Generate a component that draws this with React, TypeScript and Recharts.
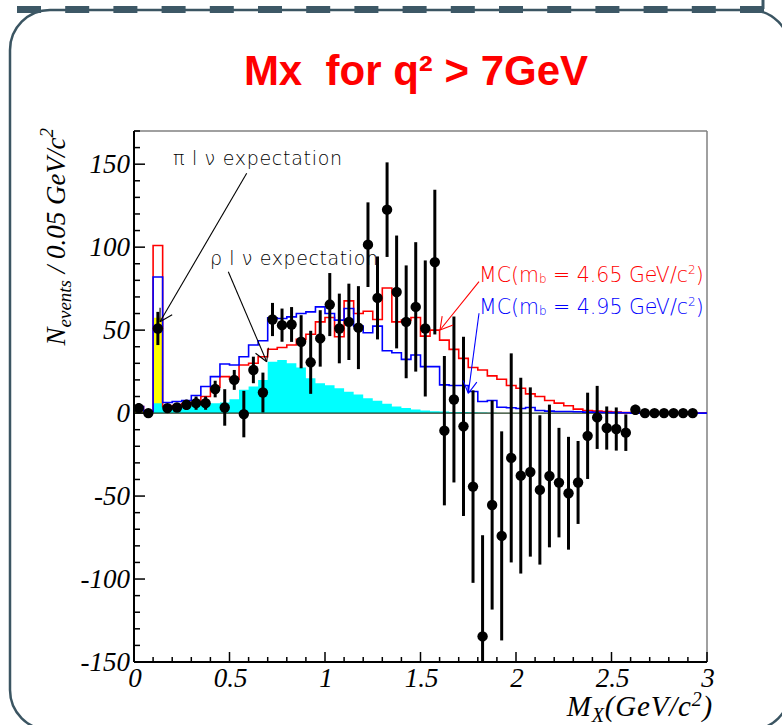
import React from "react";
import {
  ComposedChart,
  Line,
  Area,
  Scatter,
  ErrorBar,
  XAxis,
  YAxis,
  ReferenceLine,
} from "recharts";

// Histogram binning: 60 bins of 0.05 GeV/c^2 between 0 and 3
const BIN_WIDTH = 0.05;
const N_BINS = 60;
const Y_MIN = -150;
const Y_MAX = 170;

// MC prediction, m_b = 4.65 GeV/c^2 (red outline)
const MC_465 = [
  4, 1, 101, 4, 4.6, 5.6, 6.5, 10, 15.6, 22,
  20.5, 29, 30, 34, 38.5, 39.5, 41, 44.4, 47.5, 55,
  57.6, 46, 67.6, 60, 61.4, 56.4, 75.4, 55, 56, 57.6,
  46.4, 50, 44, 38.4, 33, 27.5, 26, 22.4, 20.4, 16.6,
  15, 11.6, 10, 7.6, 6, 4.4, 2.4, 1.6, 1.2, 1,
  0.6, 0.3, 0, 0, 0, 0, 0, 0, 0, 0,
];

// MC prediction, m_b = 4.95 GeV/c^2 (blue outline)
const MC_495 = [
  4, 1, 82, 6.4, 7, 7.6, 10.6, 16, 22, 29.6,
  29, 34, 41, 43.6, 57.5, 57, 58, 60, 61, 64,
  60, 56, 63, 52.4, 48.4, 52.4, 37.6, 36.4, 32.4, 35,
  28, 28, 17, 16.6, 16.6, 13, 7, 7.6, 3.5, 3.2,
  2.8, 3.4, 1.6, 1.2, 1, 1, 0.8, 0.6, 0.5, 0.4,
  0.3, 0.2, 0, 0, 0, 0, 0, 0, 0, 0,
];

// rho l nu expectation (cyan fill)
const RHO_LNU = [
  0, 0, 6, 3.6, 3.8, 4, 4.4, 5, 6, 6.4,
  8.4, 14, 16, 20, 31, 32, 30, 27.5, 21, 18,
  16.8, 15, 12.8, 11.2, 9, 7.4, 5.6, 4, 3, 2.2,
  1.5, 1.1, 0.9, 0.7, 0.6, 0.5, 0.3, 0.2, 0, 0,
  0, 0, 0, 0, 0, 0, 0, 0, 0, 0,
  0, 0, 0, 0, 0, 0, 0, 0, 0, 0,
];

// pi l nu expectation (yellow fill)
const PI_LNU = [
  3, 0, 57.5, 0, 0, 0, 0, 0, 0, 0,
  0, 0, 0, 0, 0, 0, 0, 0, 0, 0,
  0, 0, 0, 0, 0, 0, 0, 0, 0, 0,
  0, 0, 0, 0, 0, 0, 0, 0, 0, 0,
  0, 0, 0, 0, 0, 0, 0, 0, 0, 0,
  0, 0, 0, 0, 0, 0, 0, 0, 0, 0,
];

// background-subtracted data, one entry per bin centre (last bin empty)
const DATA_Y = [
  3, 0, 51, 3, 3.4, 5, 6, 6, 14.5, 3.4,
  20, -0.6, 26, 12.4, 56.4, 53, 53.4, 43, 30.6, 45,
  65.4, 51, 55, 51.5, 101.5, 69.4, 122.6, 73, 55, 64,
  51, 91, -10.6, 8.2, -8, -44.3, -134.6, -55.4, -74, -27,
  -37.7, -35.5, -46.3, -37.9, -41.9, -48.3, -41.8, -13.7, -2.6, -9,
  -9.6, -11.8, 2, 0, 0, 0, 0, 0, 0,
];
const DATA_ERR = [
  3, 0, 10, 2, 2, 3, 4, 4, 5, 11,
  6, 14, 8, 12, 10, 10, 10.5, 16, 19, 17,
  19, 21, 23, 25, 25.5, 25, 28.5, 34, 34, 39,
  41, 43.6, 45, 50, 54, 58, 61, 63, 63, 63,
  59, 51, 45, 43, 33, 34, 25, 26, 19, 13,
  13, 11, 3, 0, 0, 0, 0, 0, 0,
];

const X_TICKS = [
  0, 0.1, 0.2, 0.3, 0.4, 0.5, 0.6, 0.7, 0.8, 0.9, 1, 1.1, 1.2, 1.3, 1.4, 1.5,
  1.6, 1.7, 1.8, 1.9, 2, 2.1, 2.2, 2.3, 2.4, 2.5, 2.6, 2.7, 2.8, 2.9, 3,
];
const Y_TICKS = [
  -150, -140, -130, -120, -110, -100, -90, -80, -70, -60, -50, -40, -30, -20, -10,
  0, 10, 20, 30, 40, 50, 60, 70, 80, 90, 100, 110, 120, 130, 140, 150, 160, 170,
];

// bin edges; the closing edge repeats the last bin so the step reaches x = 3
const histRows = Array.from({ length: N_BINS + 1 }, (_, i) => {
  const b = Math.min(i, N_BINS - 1);
  return {
    x: +(i * BIN_WIDTH).toFixed(2),
    red: MC_465[b],
    blue: MC_495[b],
    rho: RHO_LNU[b],
    pi: PI_LNU[b],
  };
});

// error bars stop at the frame, like the plot's own clipping
const pointRows = DATA_Y.map((y, i) => ({
  x: +((i + 0.5) * BIN_WIDTH).toFixed(3),
  y,
  errRange: [Math.min(DATA_ERR[i], y - Y_MIN), Math.min(DATA_ERR[i], Y_MAX - y)],
}));

const SERIF = "'Liberation Serif', 'Times New Roman', serif";
const SANS = "'DejaVu Sans', Verdana, sans-serif";

function YTick({ x, y, payload }: any) {
  const v = payload.value;
  const major = v % 50 === 0;
  return (
    <g>
      <line x1={x} x2={x + (major ? 11 : 6)} y1={y} y2={y} stroke="#000" strokeWidth={1.5} />
      {major && v <= 150 && (
        <text
          x={x - 4}
          y={y + 9}
          textAnchor="end"
          fontFamily={SERIF}
          fontStyle="italic"
          fontSize={27}
          fill="#000"
        >
          {v}
        </text>
      )}
    </g>
  );
}

function XTick({ x, y, payload }: any) {
  const v = payload.value;
  const major = Math.abs(v * 2 - Math.round(v * 2)) < 1e-6;
  return (
    <g>
      <line x1={x} x2={x} y1={y} y2={y - (major ? 10 : 5)} stroke="#000" strokeWidth={1.5} />
      {major && (
        <text
          x={x + 1}
          y={y + 25}
          textAnchor="middle"
          fontFamily={SERIF}
          fontStyle="italic"
          fontSize={27}
          fill="#000"
        >
          {v}
        </text>
      )}
    </g>
  );
}

const Dot = ({ cx, cy }: any) => <circle cx={cx} cy={cy} r={5.2} fill="#000" />;

function Arrow({ from, to, color, len = 14 }: any) {
  const ang = Math.atan2(from[1] - to[1], from[0] - to[0]);
  const a1 = ang + Math.PI / 6;
  const a2 = ang - Math.PI / 6;
  return (
    <g stroke={color} strokeWidth={1.1} fill="none">
      <line x1={from[0]} y1={from[1]} x2={to[0]} y2={to[1]} />
      <line x1={to[0]} y1={to[1]} x2={to[0] + len * Math.cos(a1)} y2={to[1] + len * Math.sin(a1)} />
      <line x1={to[0]} y1={to[1]} x2={to[0] + len * Math.cos(a2)} y2={to[1] + len * Math.sin(a2)} />
    </g>
  );
}

function McLabel({ x, y, color, mass }: any) {
  return (
    <text x={x} y={y} fontFamily={SANS} fontWeight={200} fontSize={20.5} fill={color}>
      MC(m
      <tspan fontSize={12} dy={1}>b</tspan>
      <tspan dy={-1}>{` = ${mass} GeV/c`}</tspan>
      <tspan fontSize={12} dy={-8}>2</tspan>
      <tspan dy={8}>)</tspan>
    </text>
  );
}

export default function App() {
  return (
    <div style={{ position: "absolute", left: 0, top: 0, width: 782, height: 725, background: "#fff" }}>
      {/* slide frame */}
      <svg width={782} height={725} style={{ position: "absolute", left: 0, top: 0 }}>
        <rect x={10} y={10} width={780} height={720} rx={40} fill="none" stroke="#3b5562" strokeWidth={2.5} />
        <line x1={17} x2={766} y1={9.5} y2={9.5} stroke="#3d5866" strokeWidth={7} strokeDasharray="24 24.2" />
        <line x1={763} x2={763} y1={0} y2={9} stroke="#3d5866" strokeWidth={3} />
      </svg>

      <div style={{ position: "absolute", left: 0, top: 0 }}>
        <ComposedChart
          width={782}
          height={725}
          data={histRows}
          margin={{ top: 131, right: 75, bottom: 0, left: 44 }}
        >
          <XAxis
            type="number"
            dataKey="x"
            domain={[0, 3]}
            ticks={X_TICKS}
            interval={0}
            allowDataOverflow
            height={63}
            tickSize={0}
            tickMargin={0}
            tickLine={false}
            axisLine={{ stroke: "#000", strokeWidth: 2 }}
            tick={(p: any) => <XTick {...p} />}
          />
          <YAxis
            type="number"
            domain={[Y_MIN, Y_MAX]}
            ticks={Y_TICKS}
            interval={0}
            allowDataOverflow
            width={90}
            tickSize={0}
            tickMargin={0}
            tickLine={false}
            axisLine={{ stroke: "#000", strokeWidth: 2 }}
            tick={(p: any) => <YTick {...p} />}
          />
          <ReferenceLine y={Y_MAX} stroke="#808080" strokeWidth={1.5} />
          <ReferenceLine x={3} stroke="#808080" strokeWidth={1.5} />
          <Area
            dataKey="pi"
            type="stepAfter"
            baseValue={0}
            fill="#ffff00"
            fillOpacity={1}
            stroke="none"
            isAnimationActive={false}
          />
          <Area
            dataKey="rho"
            type="stepAfter"
            baseValue={0}
            fill="#00ffff"
            fillOpacity={1}
            stroke="none"
            isAnimationActive={false}
          />
          <ReferenceLine y={0} stroke="#1f3a1f" strokeWidth={1.2} />
          <Line
            dataKey="red"
            type="stepAfter"
            stroke="#ff0000"
            strokeWidth={1.6}
            dot={false}
            isAnimationActive={false}
          />
          <Line
            dataKey="blue"
            type="stepAfter"
            stroke="#0000ff"
            strokeWidth={1.6}
            dot={false}
            isAnimationActive={false}
          />
          <Scatter data={pointRows} dataKey="y" shape={<Dot />} isAnimationActive={false}>
            <ErrorBar dataKey="errRange" direction="y" width={0} stroke="#000" strokeWidth={3} />
          </Scatter>
        </ComposedChart>
      </div>

      {/* titles and annotations */}
      <svg width={782} height={725} style={{ position: "absolute", left: 0, top: 0, pointerEvents: "none" }}>
        <text
          x={416}
          y={85}
          textAnchor="middle"
          fontFamily="'Liberation Sans', Arial, sans-serif"
          fontWeight="bold"
          fontSize={42}
          fill="#ff0000"
          style={{ whiteSpace: "pre" }}
        >
          {"Mx  for q² > 7GeV"}
        </text>

        <g transform="translate(65,128) rotate(-90)">
          <text x={0} y={0} textAnchor="end" fontFamily={SERIF} fontStyle="italic" fontSize={27} fill="#000">
            N
            <tspan fontSize={19} dy={6}>events</tspan>
            <tspan dy={-6}>{" / 0.05 GeV/c"}</tspan>
            <tspan fontSize={19} dy={-12}>2</tspan>
          </text>
        </g>

        <text
          x={713}
          y={716}
          textAnchor="end"
          fontFamily={SERIF}
          fontStyle="italic"
          fontSize={29}
          letterSpacing={0.8}
          fill="#000"
        >
          M
          <tspan fontSize={20} dy={6}>X</tspan>
          <tspan dy={-6}>(GeV/c</tspan>
          <tspan fontSize={20} dy={-10}>2</tspan>
          <tspan dy={10}>)</tspan>
        </text>

        <g fontFamily={SANS} fontWeight={200} fontSize={19} fill="#000" style={{ whiteSpace: "pre" }}>
          <text x={173} y={165} textLength={169} lengthAdjust="spacing">
            {"π l ν expectation"}
          </text>
          <text x={210} y={265} textLength={168} lengthAdjust="spacing">
            {"ρ l ν expectation"}
          </text>
        </g>
        <Arrow from={[246.7, 173.3]} to={[160, 321.7]} color="#000" />
        <Arrow from={[228.3, 271.7]} to={[266.7, 361.7]} color="#000" />

        <McLabel x={479} y={282} color="#ff0000" mass="4.65" />
        <McLabel x={479} y={314} color="#0000ff" mass="4.95" />
        <Arrow from={[479, 281.7]} to={[440, 330]} color="#ff0000" />
        <Arrow from={[479, 313.3]} to={[468.3, 393.3]} color="#0000ff" />
      </svg>
    </div>
  );
}
